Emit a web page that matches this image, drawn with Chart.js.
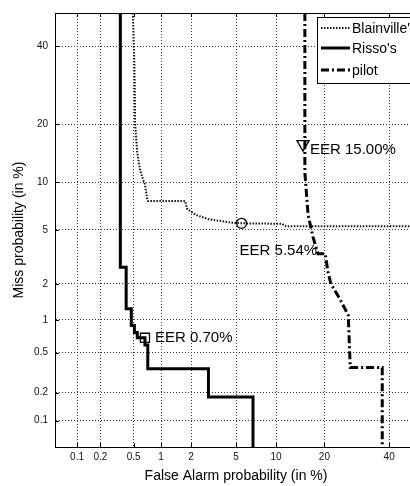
<!DOCTYPE html>
<html>
<head>
<meta charset="utf-8">
<script src="https://cdn.jsdelivr.net/npm/chart.js@4/dist/chart.umd.min.js"></script>
<style>
  html, body { margin: 0; padding: 0; background: #fff; overflow: hidden; }
  #wrap { width: 420px; height: 486px; }
</style>
</head>
<body>
<div id="wrap"><canvas id="det" width="420" height="486"></canvas></div>
<script>
// ---- values in percent
const TICKS = [0.1, 0.2, 0.5, 1, 2, 5, 10, 20, 40];
const AXIS_MIN = 0.05;
const AXIS_MAX = 50;

const blainX = [0.49, 0.51, 0.52, 0.55, 0.59, 0.64, 0.67, 0.71, 0.72, 1.75, 1.83, 2.2, 2.9, 4.6, 5.54, 11, 11.7, 50];
const blainY = [50, 35, 20, 14.5, 11.8, 10.3, 9.7, 7.9, 7.7, 7.7, 6.9, 6.3, 5.9, 5.6, 5.54, 5.5, 5.3, 5.3];

const rissoX = [0.35, 0.35, 0.41, 0.41, 0.47, 0.47, 0.51, 0.51, 0.55, 0.55, 0.67, 0.67, 0.72, 0.72, 2.9, 2.9, 6.8, 6.8];
const rissoY = [50, 2.7, 2.7, 1.25, 1.25, 0.89, 0.89, 0.77, 0.77, 0.69, 0.69, 0.59, 0.59, 0.35, 0.35, 0.18, 0.18, 0.05];

const pilotX = [15.4, 15.4, 16.1, 17.2, 18.4, 20.2, 20.9, 21.7, 24.2, 26.6, 27.2, 37.6, 37.6];
const pilotY = [50, 11.4, 6.3, 4.5, 3.4, 3.4, 2.5, 2.0, 1.5, 1.1, 0.36, 0.36, 0.05];

// EER markers: [x, y] and their labels
const eerPilot = [15, 16];
const eerBlain = [5.54, 5.54];
const eerRisso = [0.67, 0.69];
const eerLabels = ["EER 15.00%", "EER 5.54%", "EER 0.70%"];

const names = ["Blainville's", "Risso's", "pilot"];

const FONT = "'Liberation Sans', Arial, sans-serif";

// inverse normal CDF (Acklam)
function probit(p) {
  const a = [-3.969683028665376e+01, 2.209460984245205e+02, -2.759285104469687e+02, 1.383577518672690e+02, -3.066479806614716e+01, 2.506628277459239e+00];
  const b = [-5.447609879822406e+01, 1.615858368580409e+02, -1.556989798598866e+02, 6.680131188771972e+01, -1.328068155288572e+01];
  const c = [-7.784894002430293e-03, -3.223964580411365e-01, -2.400758277161838e+00, -2.549732539343734e+00, 4.374664141464968e+00, 2.938163982698783e+00];
  const d = [7.784695709041462e-03, 3.224671290700398e-01, 2.445134137142996e+00, 3.754408661907416e+00];
  const plow = 0.02425;
  let q, r;
  if (p < plow) {
    q = Math.sqrt(-2 * Math.log(p));
    return (((((c[0]*q+c[1])*q+c[2])*q+c[3])*q+c[4])*q+c[5]) / ((((d[0]*q+d[1])*q+d[2])*q+d[3])*q+1);
  }
  if (p > 1 - plow) {
    q = Math.sqrt(-2 * Math.log(1 - p));
    return -(((((c[0]*q+c[1])*q+c[2])*q+c[3])*q+c[4])*q+c[5]) / ((((d[0]*q+d[1])*q+d[2])*q+d[3])*q+1);
  }
  q = p - 0.5; r = q * q;
  return (((((a[0]*r+a[1])*r+a[2])*r+a[3])*r+a[4])*r+a[5])*q / (((((b[0]*r+b[1])*r+b[2])*r+b[3])*r+b[4])*r+1);
}
const pz = (v) => probit(v / 100);
const pts = (xs, ys) => xs.map((x, i) => ({ x: pz(x), y: pz(ys[i]) }));

const tickPos = TICKS.map(pz);
function setTicks(scale) {
  scale.ticks = tickPos.map((v) => ({ value: v }));
}
function tickLabel(value) {
  const i = tickPos.findIndex((t) => Math.abs(t - value) < 1e-6);
  return i >= 0 ? String(TICKS[i]) : "";
}

// legend, EER text, inward ticks, frame
const detDecor = {
  id: "detDecor",
  afterDraw(chart) {
    const { ctx, chartArea: ca, scales } = chart;
    const sx = scales.x, sy = scales.y;
    ctx.save();
    ctx.strokeStyle = "#000";
    ctx.lineWidth = 1;
    ctx.beginPath();
    ctx.moveTo(ca.left, ca.top + 0.5); ctx.lineTo(ca.right, ca.top + 0.5);
    ctx.moveTo(ca.right - 0.5, ca.top); ctx.lineTo(ca.right - 0.5, ca.bottom);
    tickPos.forEach((v) => {
      const x = Math.round(sx.getPixelForValue(v)) + 0.5;
      ctx.moveTo(x, ca.bottom); ctx.lineTo(x, ca.bottom - 4);
      ctx.moveTo(x, ca.top); ctx.lineTo(x, ca.top + 4);
      const y = Math.round(sy.getPixelForValue(v)) + 0.5;
      ctx.moveTo(ca.left, y); ctx.lineTo(ca.left + 4, y);
    });
    ctx.stroke();

    // EER labels
    ctx.fillStyle = "#000";
    ctx.font = "15px " + FONT;
    ctx.textBaseline = "middle";
    ctx.textAlign = "left";
    const at = (p) => [sx.getPixelForValue(pz(p[0])), sy.getPixelForValue(pz(p[1]))];
    let [px, py] = at(eerPilot);
    ctx.fillText(eerLabels[0], px + 7, py + 6);
    [px, py] = at(eerBlain);
    ctx.fillText(eerLabels[1], px - 2, py + 28);
    [px, py] = at(eerRisso);
    ctx.fillText(eerLabels[2], px + 10, py);

    // legend box
    const lx = 317, ly = 17, lw = 120, lh = 66;
    ctx.fillStyle = "#fff";
    ctx.fillRect(lx, ly, lw, lh);
    ctx.strokeRect(lx + 0.5, ly + 0.5, lw, lh);
    const rows = [28, 48, 70];
    ctx.font = "14px " + FONT;
    chart.data.datasets.slice(0, 3).forEach((ds, i) => {
      ctx.beginPath();
      ctx.strokeStyle = ds.borderColor;
      ctx.lineWidth = ds.borderWidth;
      ctx.setLineDash(ds.borderDash || []);
      ctx.moveTo(321, rows[i]);
      ctx.lineTo(350, rows[i]);
      ctx.stroke();
      ctx.setLineDash([]);
      ctx.fillStyle = "#000";
      ctx.fillText(ds.label, 352, rows[i] + 1);
    });
    ctx.restore();
  },
};

const marker = (p, style, r, rot) => ({
  label: "eer",
  data: [{ x: pz(p[0]), y: pz(p[1]) }],
  showLine: false,
  pointStyle: style,
  pointRadius: r,
  pointRotation: rot,
  pointBorderColor: "#000",
  pointBorderWidth: 1.3,
  pointBackgroundColor: "rgba(0,0,0,0)",
});

const axisCommon = {
  type: "linear",
  min: pz(AXIS_MIN),
  max: pz(AXIS_MAX),
  afterBuildTicks: setTicks,
  grid: { color: "#333", lineWidth: 1, drawTicks: false },
  border: { display: true, color: "#000", width: 1, dash: [1, 2] },
};

new Chart(document.getElementById("det"), {
  type: "line",
  data: {
    datasets: [
      {
        label: names[0],
        data: pts(blainX, blainY),
        borderColor: "#111",
        borderWidth: 2,
        borderDash: [1.5, 1.5],
        pointRadius: 0,
      },
      {
        label: names[1],
        data: pts(rissoX, rissoY),
        borderColor: "#000",
        borderWidth: 3,
        pointRadius: 0,
      },
      {
        label: names[2],
        data: pts(pilotX, pilotY),
        borderColor: "#000",
        borderWidth: 3,
        borderDash: [8, 3, 2, 3],
        pointRadius: 0,
      },
      marker(eerPilot, "triangle", 7, 180),
      marker(eerBlain, "circle", 5, 0),
      marker(eerRisso, "rect", 6.4, 0),
    ],
  },
  options: {
    responsive: false,
    animation: false,
    devicePixelRatio: 1,
    layout: { padding: { top: 9, right: 3, left: 0, bottom: 0 }, autoPadding: false },
    plugins: { legend: { display: false }, tooltip: { enabled: false } },
    scales: {
      x: {
        ...axisCommon,
        afterFit: (s) => { s.height = 39; },
        ticks: { callback: tickLabel, padding: 4, maxRotation: 0, autoSkip: false, color: "#111", font: { family: FONT, size: 10 } },
        title: { display: true, text: "False Alarm probability (in %)", color: "#000", padding: { top: 0, bottom: 1 }, font: { family: FONT, size: 14 } },
      },
      y: {
        ...axisCommon,
        afterFit: (s) => { s.width = 55; },
        ticks: { callback: tickLabel, padding: 7, autoSkip: false, color: "#111", font: { family: FONT, size: 10 } },
        title: { display: true, text: "Miss probability (in %)", color: "#000", padding: { top: 11, bottom: 0 }, font: { family: FONT, size: 14 } },
      },
    },
  },
  plugins: [detDecor],
});
</script>
</body>
</html>
